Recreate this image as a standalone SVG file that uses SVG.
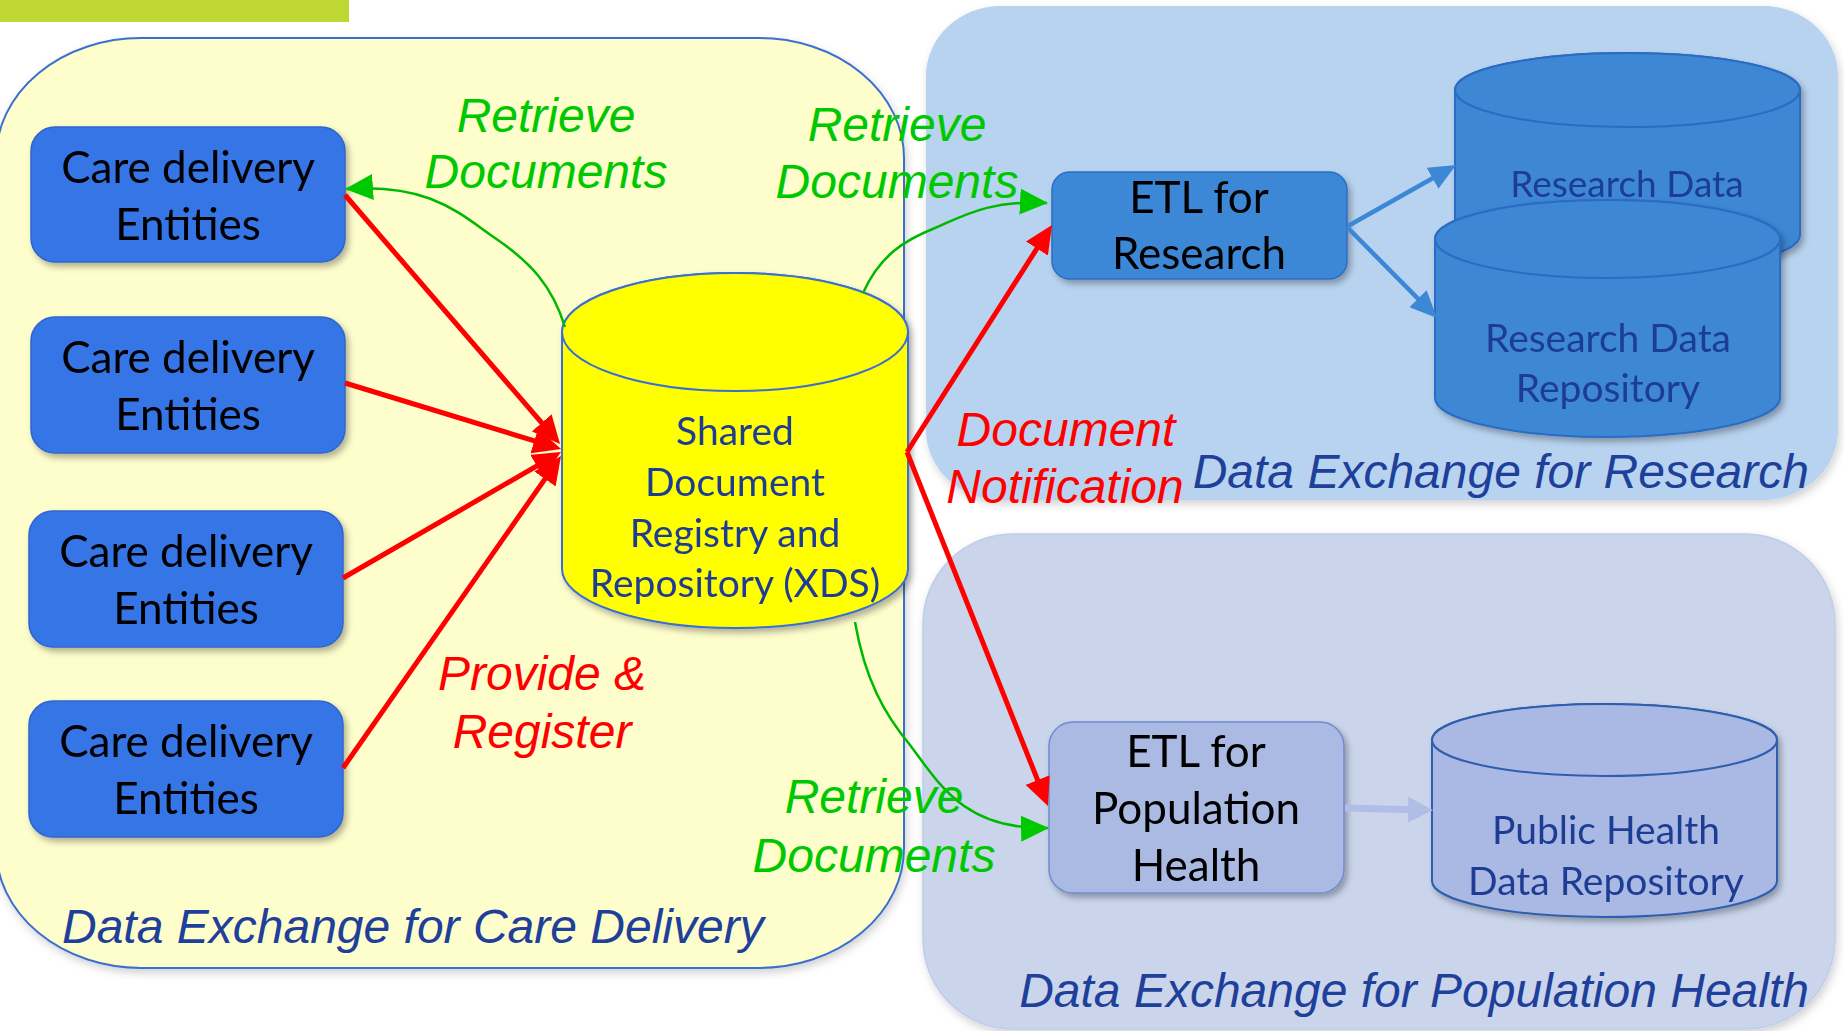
<svg xmlns="http://www.w3.org/2000/svg" width="1844" height="1031" viewBox="0 0 1844 1031">
  <defs>
    <style>
      .lbl { font-family: "Lato", "Liberation Sans", sans-serif; text-anchor: middle; }
      .blk { fill: #000000; font-size: 44px; }
      .navy { fill: #1f3c93; }
      .ttl { font-family: "Liberation Sans", Arial, sans-serif; font-style: italic; font-size: 48px; fill: #1e409a; }
      .grn { font-family: "Liberation Sans", Arial, sans-serif; font-style: italic; font-size: 48px; fill: #00c800; text-anchor: middle; }
      .red { font-family: "Liberation Sans", Arial, sans-serif; font-style: italic; font-size: 48px; fill: #ff0000; text-anchor: middle; }
      .care { fill: #3474e6; stroke: #2f65cc; stroke-width: 1.5; }
      .rline { fill: none; stroke: #ff0000; stroke-width: 5; }
      .gline { fill: none; stroke: #00b800; stroke-width: 2.5; }
      .bline { fill: none; stroke: #3d88d6; stroke-width: 4.5; }
      .lline { fill: none; stroke: #b0bde6; stroke-width: 7; }
    </style>
    <filter id="sh" x="-10%" y="-10%" width="125%" height="130%">
      <feDropShadow dx="3" dy="4" stdDeviation="3" flood-color="#000" flood-opacity="0.3"/>
    </filter>
    <filter id="shp" x="-5%" y="-5%" width="112%" height="112%">
      <feDropShadow dx="2" dy="4" stdDeviation="4" flood-color="#000" flood-opacity="0.18"/>
    </filter>
    <marker id="ar" markerUnits="userSpaceOnUse" markerWidth="28" markerHeight="26" viewBox="0 0 28 26" refX="20" refY="13" orient="auto">
      <path d="M0,0 L28,13 L0,26 Z" fill="#ff0000"/>
    </marker>
    <marker id="ag" markerUnits="userSpaceOnUse" markerWidth="28" markerHeight="26" viewBox="0 0 28 26" refX="27" refY="13" orient="auto">
      <path d="M0,0 L28,13 L0,26 Z" fill="#00c800"/>
    </marker>
    <marker id="ab" markerUnits="userSpaceOnUse" markerWidth="27" markerHeight="24" viewBox="0 0 27 24" refX="21" refY="12" orient="auto">
      <path d="M0,0 L27,12 L0,24 Z" fill="#3d88d6"/>
    </marker>
    <marker id="al" markerUnits="userSpaceOnUse" markerWidth="25" markerHeight="26" viewBox="0 0 25 26" refX="16" refY="13" orient="auto">
      <path d="M0,0 L25,13 L0,26 Z" fill="#b0bde6"/>
    </marker>
  </defs>

  <rect x="0" y="0" width="1844" height="1031" fill="#ffffff"/>
  <rect id="accent-bar" x="0" y="0" width="349" height="22" fill="#bfd732"/>

  <g id="panel-care">
    <rect x="-4" y="38" width="908" height="930" rx="145" ry="120" fill="#fefdcc" stroke="#3a6fcf" stroke-width="2" filter="url(#shp)"/>
    <text class="ttl" x="62" y="943">Data Exchange for Care Delivery</text>
  </g>
  <g id="panel-research">
    <rect x="926" y="6" width="912" height="494" rx="75" ry="70" fill="#b8d3ef" filter="url(#shp)"/>
    <text class="ttl" x="1809" y="488" text-anchor="end">Data Exchange for Research</text>
  </g>
  <g id="panel-population">
    <rect x="923" y="534" width="912" height="495" rx="90" ry="90" fill="#cad5ec" stroke="#bfcdea" stroke-width="1.5" filter="url(#shp)"/>
    <text class="ttl" x="1809" y="1007" text-anchor="end">Data Exchange for Population Health</text>
  </g>

  <g id="care-1" filter="url(#sh)">
    <rect class="care" x="31" y="127" width="314" height="135" rx="24"/>
    <text class="lbl blk" x="188" y="183">Care delivery</text>
    <text class="lbl blk" x="188" y="240">Entities</text>
  </g>
  <g id="care-2" filter="url(#sh)">
    <rect class="care" x="31" y="317" width="314" height="136" rx="24"/>
    <text class="lbl blk" x="188" y="373">Care delivery</text>
    <text class="lbl blk" x="188" y="430">Entities</text>
  </g>
  <g id="care-3" filter="url(#sh)">
    <rect class="care" x="29" y="511" width="314" height="136" rx="24"/>
    <text class="lbl blk" x="186" y="567">Care delivery</text>
    <text class="lbl blk" x="186" y="624">Entities</text>
  </g>
  <g id="care-4" filter="url(#sh)">
    <rect class="care" x="29" y="701" width="314" height="136" rx="24"/>
    <text class="lbl blk" x="186" y="757">Care delivery</text>
    <text class="lbl blk" x="186" y="814">Entities</text>
  </g>

  <g id="xds" filter="url(#sh)">
    <path d="M562,332 V569 A173,59 0 0 0 908,569 V332 A173,59 0 0 0 562,332 Z" fill="#ffff00" stroke="#3a6fcf" stroke-width="2"/>
    <ellipse cx="735" cy="332" rx="173" ry="59" fill="#ffff00" stroke="#3a6fcf" stroke-width="2"/>
    <text class="lbl navy" font-size="39" x="735" y="445">Shared</text>
    <text class="lbl navy" font-size="39" x="735" y="496">Document</text>
    <text class="lbl navy" font-size="39" x="735" y="547">Registry and</text>
    <text class="lbl navy" font-size="39" x="735" y="597">Repository (XDS)</text>
  </g>

  <g id="etl-research" filter="url(#sh)">
    <rect x="1052" y="172" width="295" height="107" rx="18" fill="#3d88d6" stroke="#2c6cc4" stroke-width="1.5"/>
    <text class="lbl blk" x="1199" y="213">ETL for</text>
    <text class="lbl blk" x="1199" y="269">Research</text>
  </g>

  <g id="research-data" filter="url(#sh)">
    <path d="M1455,90 V235 A172.5,37 0 0 0 1800,235 V90 A172.5,37 0 0 0 1455,90 Z" fill="#3c87d5" stroke="#2c6cc4" stroke-width="2"/>
    <ellipse cx="1627.5" cy="90" rx="172.5" ry="37" fill="#3c87d5" stroke="#2c6cc4" stroke-width="2"/>
    <text class="lbl navy" font-size="37" x="1627" y="197">Research Data</text>
  </g>

  <g id="research-repo" filter="url(#sh)">
    <path d="M1435,239 V398 A172.5,39 0 0 0 1780,398 V239 A172.5,39 0 0 0 1435,239 Z" fill="#3c87d5" stroke="#2c6cc4" stroke-width="2"/>
    <ellipse cx="1607.5" cy="239" rx="172.5" ry="39" fill="#3c87d5" stroke="#2c6cc4" stroke-width="2"/>
    <text class="lbl navy" font-size="39" x="1608" y="352">Research Data</text>
    <text class="lbl navy" font-size="39" x="1608" y="402">Repository</text>
  </g>

  <g id="etl-population" filter="url(#sh)">
    <rect x="1049" y="722" width="295" height="171" rx="24" fill="#abbae3" stroke="#6f8ad0" stroke-width="1.5"/>
    <text class="lbl blk" x="1196" y="767">ETL for</text>
    <text class="lbl blk" x="1196" y="824">Population</text>
    <text class="lbl blk" x="1196" y="881">Health</text>
  </g>

  <g id="public-health-repo" filter="url(#sh)">
    <path d="M1432,740 V881 A172.5,36 0 0 0 1777,881 V740 A172.5,36 0 0 0 1432,740 Z" fill="#aab9e3" stroke="#2f5fae" stroke-width="2"/>
    <ellipse cx="1604.5" cy="740" rx="172.5" ry="36" fill="#aab9e3" stroke="#2f5fae" stroke-width="2"/>
    <text class="lbl navy" font-size="39" x="1606" y="844">Public Health</text>
    <text class="lbl navy" font-size="39" x="1606" y="895">Data Repository</text>
  </g>

  <g id="connectors">
    <path class="rline" d="M345,195 L554.8,438" marker-end="url(#ar)"/>
    <path class="rline" d="M345,383 L553.4,446.7" marker-end="url(#ar)"/>
    <path class="rline" d="M343,578 L554.1,456" marker-end="url(#ar)"/>
    <path class="rline" d="M343,768 L556.4,462.6" marker-end="url(#ar)"/>
    <path class="rline" d="M907,452 L1047.7,231.7" marker-end="url(#ar)"/>
    <path class="rline" d="M907,452 L1045,798.6" marker-end="url(#ar)"/>
    <path class="gline" d="M565,327 C552,285 530,262 495,238 C460,214 430,183 346,189" marker-end="url(#ag)"/>
    <path class="gline" d="M863,293 C880,255 905,240 935,228 C965,215 990,200 1047,203" marker-end="url(#ag)"/>
    <path class="gline" d="M855,622 C865,680 885,715 910,745 C940,785 965,830 1048,828" marker-end="url(#ag)"/>
    <path class="bline" d="M1348,226 L1450.8,168" marker-end="url(#ab)"/>
    <path class="bline" d="M1348,228 L1432.8,313.7" marker-end="url(#ab)"/>
    <path class="lline" d="M1345,808 L1424,810" marker-end="url(#al)"/>
  </g>

  <g id="labels">
    <text class="grn" x="546" y="132">Retrieve</text>
    <text class="grn" x="546" y="188">Documents</text>
    <text class="grn" x="897" y="141">Retrieve</text>
    <text class="grn" x="897" y="198">Documents</text>
    <text class="grn" x="874" y="813">Retrieve</text>
    <text class="grn" x="874" y="872">Documents</text>
    <text class="red" x="542" y="690">Provide &amp;</text>
    <text class="red" x="542" y="748">Register</text>
    <text class="red" x="1066" y="446">Document</text>
    <text class="red" x="1065" y="503">Notification</text>
  </g>
</svg>
